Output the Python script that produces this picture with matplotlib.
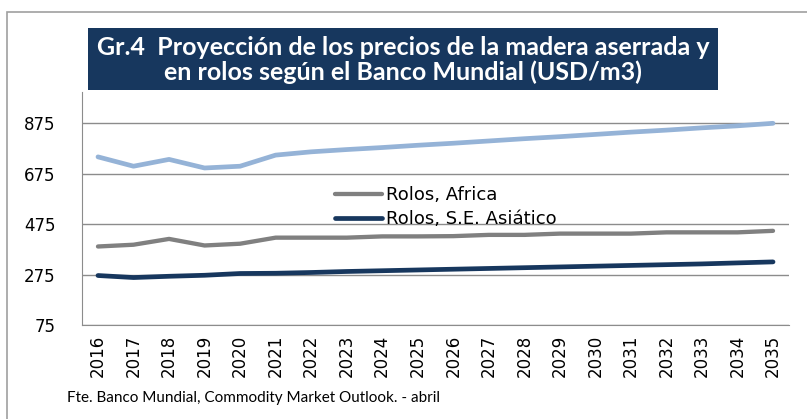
import matplotlib
matplotlib.use("Agg")
import matplotlib.pyplot as plt
from matplotlib.patches import Rectangle

years = [str(y) for y in range(2016, 2036)]
aserrada = [741, 704, 731, 697, 704, 748, 761, 770, 778, 787, 795, 804, 813, 821, 830, 839, 847, 856, 864, 874]
rolos_africa = [386, 393, 416, 390, 397, 421, 421, 421, 426, 426, 427, 432, 432, 437, 437, 437, 442, 442, 442, 448]
rolos_asia = [271, 263, 268, 272, 279, 280, 283, 287, 290, 293, 296, 299, 302, 305, 308, 311, 314, 317, 321, 325]
yticks = [75, 275, 475, 675, 875]

title = "Gr.4  Proyección de los precios de la madera aserrada y\nen rolos según el Banco Mundial (USD/m3)"
source = "Fte. Banco Mundial, Commodity Market Outlook. - abril"

W, H = 807, 419
fig = plt.figure(figsize=(W / 100, H / 100), dpi=100)

# outer chart frame
fig.patches.append(Rectangle((7 / W, -0.1), 1.1, 1 - 12 / H + 0.1, transform=fig.transFigure,
                             fill=False, edgecolor="#a0a0a0", linewidth=1.2))

ax = fig.add_axes([82 / W, 1 - 325 / H, (789 - 82) / W, (325 - 92) / H])
x = list(range(len(years)))

ax.plot(x, aserrada, color="#95b3d7", lw=3.4, solid_capstyle="round", solid_joinstyle="round")
ax.plot(x, rolos_africa, color="#808080", lw=3.1, solid_capstyle="round", label="Rolos, Africa")
ax.plot(x, rolos_asia, color="#17375e", lw=3.4, solid_capstyle="round", label="Rolos, S.E. Asiático")

ax.set_xlim(-0.45, len(years) - 0.55)
ax.set_ylim(75, 998)
ax.set_yticks(yticks)
ax.set_yticklabels([str(v) for v in yticks], fontsize=12)
ax.set_xticks(x)
ax.set_xticklabels(years, rotation=90, fontsize=12)
ax.tick_params(length=0)
ax.tick_params(axis="y", pad=19)
ax.tick_params(axis="x", pad=7)
ax.grid(axis="y", color="#8c8c8c", lw=1)
ax.set_axisbelow(True)
for s in ["top", "right"]:
    ax.spines[s].set_visible(False)
for s in ["left", "bottom"]:
    ax.spines[s].set_color("#8c8c8c")

ax.legend(loc="upper left", bbox_to_anchor=(335 / W, 1 - 186 / H), bbox_transform=fig.transFigure,
          frameon=False, fontsize=13, handlelength=2.6, handletextpad=0.2, labelspacing=0.35,
          borderpad=0, borderaxespad=0)

# title box
fig.patches.append(Rectangle((88 / W, 1 - 90 / H), (718 - 88) / W, (90 - 28) / H,
                             transform=fig.transFigure, facecolor="#17375e", edgecolor="none", zorder=5))
fig.text(403 / W, 1 - 60 / H, title, ha="center", va="center", color="white", fontsize=18,
         fontweight="bold", family=["Lato", "DejaVu Sans"], linespacing=1.1, zorder=6)

fig.text(67 / W, 1 - 398 / H, source, ha="left", va="center", fontsize=11, family=["Lato", "DejaVu Sans"])

fig.savefig("out.png", dpi=100)
